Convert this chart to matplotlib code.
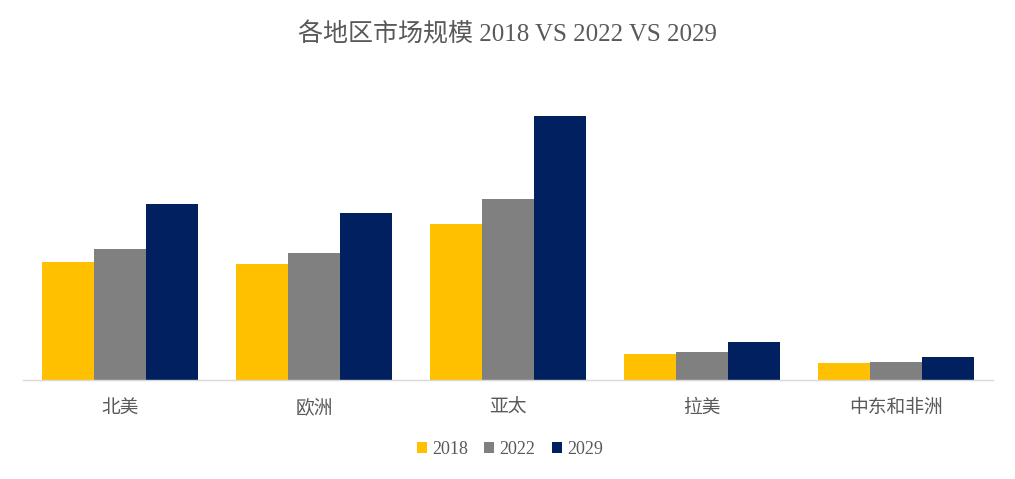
import matplotlib
matplotlib.use("Agg")
import matplotlib.pyplot as plt
import numpy as np

plt.rcParams['font.family'] = ['Liberation Serif', 'Noto Sans CJK SC']

categories = ['北美', '欧洲', '亚太', '拉美', '中东和非洲']
series_names = ['2018', '2022', '2029']
v2018 = [118, 116, 156, 26, 17]
v2022 = [131, 127, 181, 28, 18]
v2029 = [176, 167, 264, 38, 23]
colors = ['#FFC000', '#808080', '#002060']

fig = plt.figure(figsize=(10.15, 4.79), dpi=100)
ax = fig.add_axes([23/1015, 99/479, 970/1015, 300/479])
x = np.arange(len(categories))
w = 0.268
for i, (vals, name, c) in enumerate(zip([v2018, v2022, v2029], series_names, colors)):
    ax.bar(x + (i - 1) * w, vals, width=w, color=c, label=name)

ax.set_xlim(-0.5, len(categories) - 0.5)
ax.set_ylim(0, 300)
ax.set_yticks([])
ax.set_xticks(x)
ax.set_xticklabels(categories, fontsize=13.5, color='#595959')
ax.tick_params(axis='x', length=0, pad=14)
for s in ['top', 'right', 'left']:
    ax.spines[s].set_visible(False)
ax.spines['bottom'].set_color('#D9D9D9')
ax.spines['bottom'].set_linewidth(1)

fig.text(0.5, 1 - 34/479, '各地区市场规模 2018 VS 2022 VS 2029', ha='center', va='center',
         fontsize=18, color='#595959')
leg = fig.legend(loc='center', bbox_to_anchor=(510/1015, 1 - 449/479), ncol=3, frameon=False,
                 fontsize=13, handlelength=0.55, handleheight=0.55, handletextpad=0.3, columnspacing=0.9)
for t in leg.get_texts():
    t.set_color('#595959')
fig.savefig('out.png', dpi=100)
